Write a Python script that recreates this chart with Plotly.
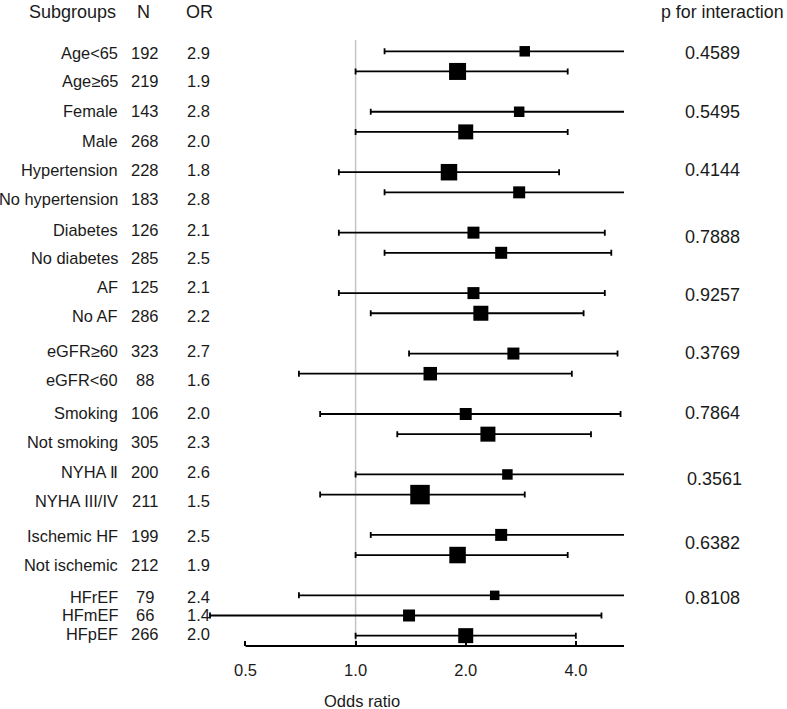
import math
import plotly.graph_objects as go

# ---------------- data ----------------
subgroups = ["Age<65", "Age≥65", "Female", "Male", "Hypertension", "No hypertension",
             "Diabetes", "No diabetes", "AF", "No AF", "eGFR≥60", "eGFR<60",
             "Smoking", "Not smoking", "NYHA Ⅱ", "NYHA III/IV", "Ischemic HF",
             "Not ischemic", "HFrEF", "HFmEF", "HFpEF"]
n_patients = [192, 219, 143, 268, 228, 183, 126, 285, 125, 286, 323, 88,
              106, 305, 200, 211, 199, 212, 79, 66, 266]
odds_ratio = [2.9, 1.9, 2.8, 2.0, 1.8, 2.8, 2.1, 2.5, 2.1, 2.2, 2.7, 1.6,
              2.0, 2.3, 2.6, 1.5, 2.5, 1.9, 2.4, 1.4, 2.0]
ci_lower = [1.2, 1.0, 1.1, 1.0, 0.9, 1.2, 0.9, 1.2, 0.9, 1.1, 1.4, 0.7,
            0.8, 1.3, 1.0, 0.8, 1.1, 1.0, 0.7, 0.4, 1.0]
ci_upper = [7.0, 3.8, 7.1, 3.8, 3.6, 6.5, 4.8, 5.0, 4.8, 4.2, 5.2, 3.9,
            5.3, 4.4, 6.8, 2.9, 5.7, 3.8, 8.2, 4.7, 4.0]
group_sizes = [2, 2, 2, 2, 2, 2, 2, 2, 2, 3]
p_interaction = [0.4589, 0.5495, 0.4144, 0.7888, 0.9257, 0.3769, 0.7864,
                 0.3561, 0.6382, 0.8108]
tick_values = [0.5, 1.0, 2.0, 4.0]
tick_labels = ["0.5", "1.0", "2.0", "4.0"]

# ---------------- style / layout ----------------
W, H = 787, 709
PL, PR = 200.0, 624.3          # plot area left/right (px)
PT, PB = 0.0, 646.0            # plot area top/bottom (px)
X1_PX, PX_PER_DEC = 355.7, 366.1
ROW0_PX, ROW_PX = 51.3, 20.15
marker_px = [10.5, 17, 10.5, 15, 16.5, 12, 12, 12, 12, 15, 12, 13.5,
             12, 15, 10.5, 19.5, 12, 16.5, 9.5, 12, 15]
label_y_px = [53, 81, 111, 141, 170, 199, 230, 258, 287, 316, 351, 380,
              413, 442, 472, 501, 536, 565, 597, 615, 634]
p_y_px = [53.3, 111.7, 170, 236.7, 295, 353.3, 413.3, 479.3, 543.3, 598.3]
p_x_px = [713, 713, 713, 713, 713, 713, 713, 715, 713, 713]
FONT = "Liberation Sans, Arial, sans-serif"
TXT = "#1a1a1a"

def pxx(px):
    return (px - PL) / (PR - PL)

def pxy(py):
    return (PB - py) / (PB - PT)

x_range = [(PL - X1_PX) / PX_PER_DEC, (PR - X1_PX) / PX_PER_DEC]
y_top = (PT - ROW0_PX) / ROW_PX
y_bot = (PB - ROW0_PX) / ROW_PX

# row positions from group structure (one blank row between groups)
rows = []
pos = 0
for g in group_sizes:
    for k in range(g):
        rows.append(pos)
        pos += 1
    pos += 1

fig = go.Figure()
fig.add_trace(go.Scatter(
    x=odds_ratio, y=rows, mode="markers",
    marker=dict(symbol="square", size=marker_px, color="black", opacity=1,
                line=dict(width=0)),
    error_x=dict(type="data", symmetric=False,
                 array=[u - o for u, o in zip(ci_upper, odds_ratio)],
                 arrayminus=[o - l for o, l in zip(odds_ratio, ci_lower)],
                 color="black", thickness=1.8, width=3),
    hoverinfo="skip", showlegend=False,
))

shapes = [
    # reference line at OR = 1
    dict(type="line", xref="x", yref="paper", x0=1.0, x1=1.0,
         y0=pxy(40), y1=0, line=dict(color="#c4c4c4", width=1.5), layer="below"),
    # x axis line from 0.5 to the right end
    dict(type="line", xref="x", yref="paper", x0=tick_values[0], x1=10 ** x_range[1],
         y0=0, y1=0, line=dict(color="black", width=2)),
]

ann = []
def add_text(px, py, text, size, anchor="center"):
    ann.append(dict(x=pxx(px), y=pxy(py), xref="paper", yref="paper",
                    text=text, showarrow=False, xanchor=anchor, yanchor="middle",
                    font=dict(family=FONT, size=size, color=TXT)))

add_text(72.5, 12, "Subgroups", 18)
add_text(143, 12, "N", 18)
add_text(199, 12, "OR", 18)
add_text(723, 12, "p for interaction", 17.8)

for i, name in enumerate(subgroups):
    yp = label_y_px[i]
    add_text(120, yp, name, 16.4, anchor="right")
    add_text(144.5, yp, str(n_patients[i]), 16.5)
    add_text(198, yp, f"{odds_ratio[i]:.1f}", 16.5)

for i, p in enumerate(p_interaction):
    add_text(p_x_px[i], p_y_px[i], f"{p:.4f}", 18)

add_text(362, 700.5, "Odds ratio", 16.5)

fig.update_layout(
    width=W, height=H,
    margin=dict(l=PL, r=W - PR, t=PT, b=H - PB, pad=0),
    paper_bgcolor="white", plot_bgcolor="white",
    xaxis=dict(type="log", range=x_range, tickvals=tick_values, ticktext=tick_labels,
               ticks="inside", ticklen=5, tickwidth=2, tickcolor="black",
               showline=False, showgrid=False, zeroline=False,
               tickfont=dict(family=FONT, size=16.5, color=TXT),
               ticklabelstandoff=12, fixedrange=True),
    yaxis=dict(range=[y_bot, y_top], visible=False, showgrid=False,
               zeroline=False, fixedrange=True),
    shapes=shapes, annotations=ann,
)

fig.write_html("out.html",
               config={"displayModeBar": False, "staticPlot": True},
               post_script="document.body.style.margin='0px';"
                           "document.body.style.overflow='hidden';")
